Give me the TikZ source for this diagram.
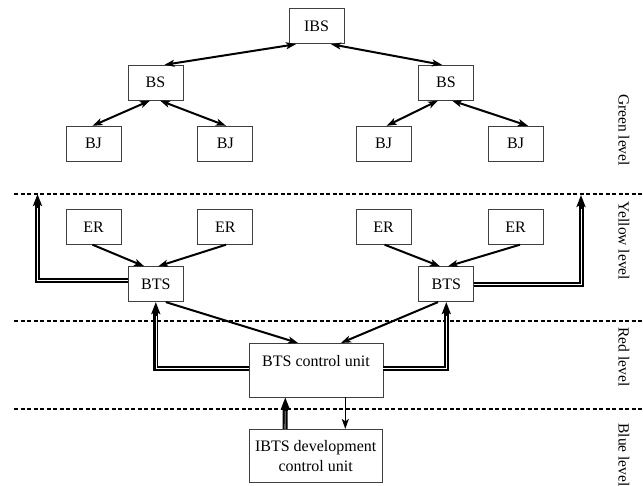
\documentclass[tikz,border=0pt]{standalone}
\usepackage{fontspec}
\setmainfont{Liberation Serif}
\usetikzlibrary{arrows.meta}
\begin{document}
\begin{tikzpicture}[x=1pt,y=-1pt,
  box/.style={draw=black!75,line width=0.8pt,minimum width=55pt,minimum height=35pt,inner sep=0pt,font=\fontsize{16}{19.5}\selectfont},
  conn/.style={line width=2pt,-{Stealth[length=10pt,width=7pt,inset=2.5pt]}},
  biconn/.style={line width=2pt,{Stealth[length=10pt,width=7pt,inset=2.5pt]}-{Stealth[length=10pt,width=7pt,inset=2.5pt]}},
  dbl/.style={double,double distance=0.6pt,line width=2.2pt,shorten >=10pt},
  dbltip/.style={line width=5pt,-{Stealth[length=12pt,width=9pt,inset=2.5pt]}},
  levelline/.style={line width=1.3pt,dash pattern=on 4pt off 2.5pt},
  lvl/.style={rotate=-90,inner sep=0pt,font=\fontsize{15.5}{18}\selectfont}
]
\useasboundingbox (0,0) rectangle (643,486);

% level separators
\coordinate (d1a) at (14,194);  \coordinate (d1b) at (643,194);
\coordinate (d2a) at (14,321);  \coordinate (d2b) at (643,321);
\coordinate (d3a) at (14,409);  \coordinate (d3b) at (643,409);
\draw[levelline] (d1a) -- (d1b);
\draw[levelline] (d2a) -- (d2b);
\draw[levelline] (d3a) -- (d3b);

% level labels
\node[lvl] (lg) at (624,130) {Green level};
\node[lvl] (ly) at (624,241) {Yellow level};
\node[lvl] (lr) at (624,357) {Red level};
\node[lvl] (lb) at (624,455) {Blue level};

% green level
\node[box] (ibs) at (316.5,26.3) {IBS};
\node[box] (bsl) at (155.5,82.7) {BS};
\node[box] (bsr) at (446,82.7) {BS};
\node[box] (bj1) at (93.5,143.7) {BJ};
\node[box] (bj2) at (225.3,143.7) {BJ};
\node[box] (bj3) at (383.6,143.7) {BJ};
\node[box] (bj4) at (515.6,143.7) {BJ};

\draw[biconn] ([xshift=-20.5pt]ibs.south) -- ([xshift=9pt]bsl.north);
\draw[biconn] ([xshift=14.5pt]ibs.south) -- ([xshift=-4pt]bsr.north);
\draw[biconn] ([xshift=-5.5pt]bsl.south) -- ([xshift=-1pt]bj1.north);
\draw[biconn] ([xshift=4.5pt]bsl.south) -- ([xshift=0.7pt]bj2.north);
\draw[biconn] ([xshift=-8pt]bsr.south) -- ([xshift=3pt]bj3.north);
\draw[biconn] ([xshift=6pt]bsr.south) -- ([xshift=12.4pt]bj4.north);

% yellow level
\node[box] (er1) at (93.5,226.8) {ER};
\node[box] (er2) at (225.3,226.8) {ER};
\node[box] (er3) at (383.6,226.8) {ER};
\node[box] (er4) at (515.6,226.8) {ER};
\node[box] (btsl) at (155.8,284.2) {BTS};
\node[box] (btsr) at (446.3,284.2) {BTS};

\draw[conn] ([xshift=-1pt]er1.south) -- ([xshift=-11.6pt]btsl.north);
\draw[conn] ([xshift=0.7pt]er2.south) -- ([xshift=2.4pt]btsl.north);
\draw[conn] ([xshift=1pt]er3.south) -- ([xshift=-6.3pt]btsr.north);
\draw[conn] ([xshift=4.4pt]er4.south) -- ([xshift=1.7pt]btsr.north);

\coordinate (yl) at (37.5,194);
\coordinate (yr) at (581,195);
\draw[dbl] ([yshift=3.5pt]btsl.west) -| (yl);
\draw[dbltip] ([yshift=-14pt]yl) -- (yl);
\draw[dbl] (btsr.east) -| (yr);
\draw[dbltip] ([yshift=-14pt]yr) -- (yr);

% red level
\node[draw=black!75,line width=0.8pt,minimum width=134pt,inner xsep=0pt,inner ysep=5pt,
      text height=18.4pt,text depth=25.3pt,font=\fontsize{16}{19.5}\selectfont]
      (cu) at (316,370.2) {BTS control unit};

\draw[conn] ([xshift=10pt]btsl.south) -- ([xshift=-18pt]cu.north);
\draw[conn] ([xshift=-8.3pt]btsr.south) -- ([xshift=25pt]cu.north);

\draw[dbl] ([yshift=1.5pt]cu.west) -| (btsl.south);
\draw[dbltip] ([yshift=-14pt]btsl.south) -- (btsl.south);
\draw[dbl] ([yshift=1.5pt]cu.east) -| (btsr.south);
\draw[dbltip] ([yshift=-14pt]btsr.south) -- (btsr.south);

% blue level
\node[draw=black!75,line width=0.8pt,minimum width=133.3pt,minimum height=53.4pt,inner sep=0pt,
      align=center,font=\fontsize{16}{19.7}\selectfont]
      (ibts) at (315.7,456) {IBTS development\\control unit};

\coordinate (ua) at ([xshift=-30.7pt]cu.south);
\draw[dbl] ([xshift=-30.7pt]ibts.north) -- (ua);
\draw[dbltip] ([yshift=-14pt]ua) -- (ua);
\draw[line width=1.6pt,-{Stealth[length=10pt,width=7pt,inset=2.5pt]}] ([xshift=29.3pt]cu.south) -- ([xshift=29.3pt]cu.south |- ibts.north);
\end{tikzpicture}
\end{document}
